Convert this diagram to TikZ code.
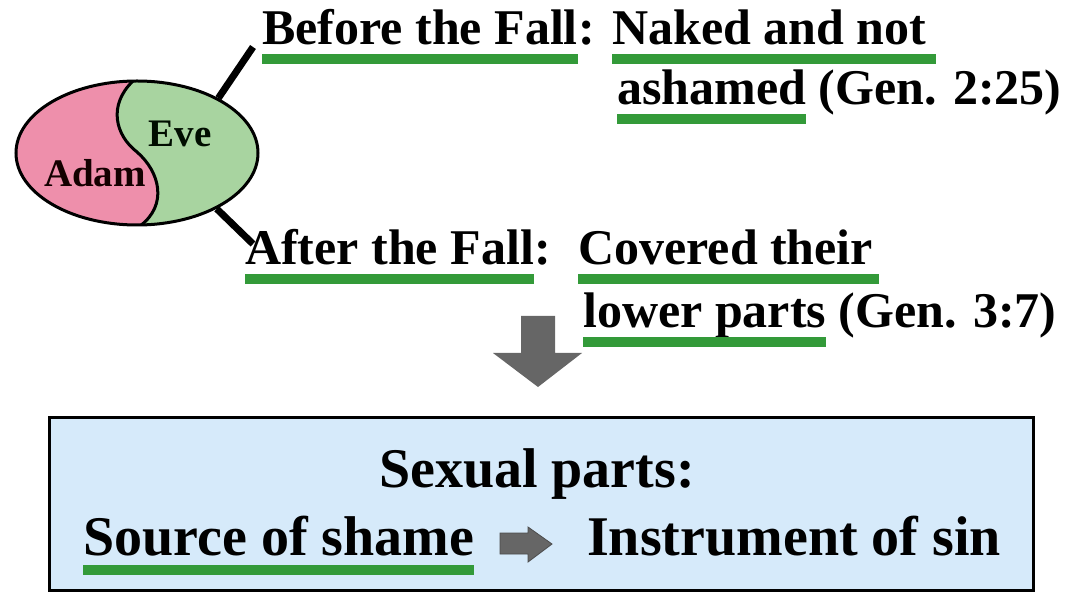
\documentclass[tikz,border=0pt]{standalone}
\usepackage{fontspec}
\setmainfont{Liberation Serif}
\usetikzlibrary{shapes.geometric}

\definecolor{ulgreen}{HTML}{339A39}
\definecolor{adampink}{HTML}{EE8FAB}
\definecolor{evegreen}{HTML}{A8D4A0}
\definecolor{boxblue}{HTML}{D6EAFA}
\definecolor{arrowgray}{HTML}{666666}

\tikzset{
  txt/.style={anchor=base west, inner sep=0pt, font=\fontsize{50}{60}\selectfont\bfseries},
  boxtxt/.style={anchor=base west, inner sep=0pt, font=\fontsize{56}{66}\selectfont\bfseries},
  persontxt/.style={inner sep=0pt, font=\fontsize{39}{44}\selectfont\bfseries},
  uline/.style={draw=ulgreen, line width=10pt},
  stem/.style={line width=7pt},
}
\newcommand{\drawul}[3][0pt]{\draw[uline] ([yshift=-#2]#3.base west) -- ([yshift=-#2,xshift=#1]#3.base east);}

\begin{document}
\begin{tikzpicture}[x=1pt,y=-1pt]
    \useasboundingbox (0,0) rectangle (1065,593);
    % Adam and Eve
    \begin{scope}
      \clip (137,153) ellipse [x radius=121, y radius=72];
      \fill[adampink] (0,60) rectangle (280,240);
      \fill[evegreen] (133,81) .. controls (108,105) and (115,135) .. (137,152)
        .. controls (160,172) and (168,205) .. (140,226) -- (280,226) -- (280,60) -- (133,60) -- cycle;
      \draw[line width=3pt] (133,81) .. controls (108,105) and (115,135) .. (137,152)
        .. controls (160,172) and (168,205) .. (140,226);
    \end{scope}
    \node[ellipse, draw, line width=3pt, minimum width=242, minimum height=144, inner sep=0pt] (couple) at (137,153) {};
    \node[persontxt, anchor=base, text=black!95!green] (eve) at (180,147) {Eve};
    \node[persontxt, anchor=base, text=black!92!red] (adam) at (95,187) {Adam};
    \coordinate (topend) at (253,47);
    \coordinate (botend) at (253,244);
    \draw[stem] (couple.34) -- (topend);
    \draw[stem] (couple.-35) -- (botend);
    % before the fall
    \node[txt] (bf) at (262,45) {Before the Fall};
    \node[txt] (bfc) at (bf.base east) {:};
    \node[txt] (nk) at (612,45) {Naked and not};
    \node[txt] (as) at (617,105) {ashamed};
    \node[txt] (gen1) at ([xshift=12pt]as.base east) {(Gen. 2:25)};
    \drawul{14pt}{bf}
    \drawul[10pt]{14pt}{nk}
    \drawul{14pt}{as}
    % after the fall
    \node[txt] (af) at (245,265) {After the Fall};
    \node[txt] (afc) at (af.base east) {:};
    \node[txt] (cv) at (578,265) {Covered their};
    \node[txt] (lp) at (583,327) {lower parts};
    \node[txt] (gen2) at ([xshift=12pt]lp.base east) {(Gen. 3:7)};
    \drawul{14pt}{af}
    \drawul[6pt]{14pt}{cv}
    \drawul{15pt}{lp}
    % down arrow
    \fill[arrowgray] (521,316) -- (555,316) -- (555,353) -- (582,353) -- (538,387) -- (493,353) -- (521,353) -- cycle;
    % result box
    \node[draw, fill=boxblue, line width=3pt, minimum width=984, minimum height=173, inner sep=0pt] (box) at (541,503.5) {};
    \node[boxtxt, anchor=base] (sp) at (537,487) {Sexual parts:};
    \node[boxtxt] (src) at (83,555) {Source of shame};
    \node[boxtxt] (ins) at (587,555) {Instrument of sin};
    \drawul{15pt}{src}
    \filldraw[fill=arrowgray, draw=black!70, line width=0.8pt] (500,533) -- (528,533) -- (528,527) -- (552,544) -- (528,562) -- (528,554) -- (500,554) -- cycle;
\end{tikzpicture}
\end{document}
